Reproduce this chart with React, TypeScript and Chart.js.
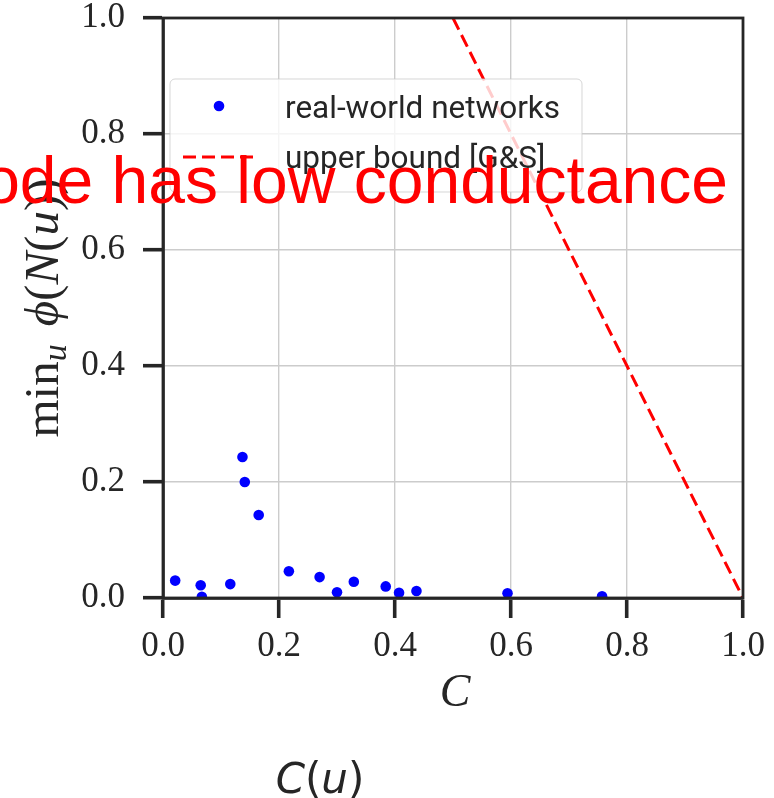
import { useEffect, useRef } from "react";
import { Chart, registerables } from "chart.js";

Chart.register(...registerables);

// ---- data ----
const clusteringC = [0.021, 0.065, 0.067, 0.116, 0.137, 0.141, 0.165, 0.217, 0.27, 0.3, 0.329, 0.384, 0.407, 0.437, 0.594, 0.757];
const minConductance = [0.03, 0.022, 0.002, 0.024, 0.243, 0.2, 0.143, 0.046, 0.036, 0.01, 0.028, 0.02, 0.009, 0.012, 0.008, 0.003];
const boundX = [0.5, 1.0];
const boundY = [1.0, 0.0];
const tickValues = [0, 0.2, 0.4, 0.6, 0.8, 1.0];
const seriesLabels = ["real-world networks", "upper bound [G&S]"];
const overlayTitle = "ode has low conductance";
const xAxisTitle = "C";
const bottomCaption = [
  { t: "C", italic: true },
  { t: "(", italic: false },
  { t: "u", italic: true },
  { t: ")", italic: false },
];

const INK = "#262626";
const SERIF = '"Liberation Serif", "DejaVu Serif", serif';
const SANS_LEG = 'Roboto, "Liberation Sans", sans-serif';

type Seg = { t: string; font: string; dy?: number; gap?: number };

const yLabelSegs: Seg[] = [
  { t: "min", font: `49px ${SERIF}` },
  { t: "u", font: `italic 34px ${SERIF}`, dy: 8 },
  { t: "ϕ", font: `italic 49px ${SERIF}`, gap: 18 },
  { t: "(", font: `49px ${SERIF}` },
  { t: "N", font: `italic 49px ${SERIF}` },
  { t: "(", font: `49px ${SERIF}` },
  { t: "u", font: `italic 49px ${SERIF}` },
  { t: "))", font: `49px ${SERIF}` },
];

function drawSegs(ctx: CanvasRenderingContext2D, segs: Seg[]) {
  let total = 0;
  const widths = segs.map((s) => {
    ctx.font = s.font;
    const w = ctx.measureText(s.t).width;
    total += w + (s.gap || 0);
    return w;
  });
  let x = -total / 2;
  segs.forEach((s, i) => {
    x += s.gap || 0;
    ctx.font = s.font;
    ctx.fillText(s.t, x, s.dy || 0);
    x += widths[i];
  });
}

const decorPlugin = {
  id: "decor",
  afterDatasetsDraw(chart: any) {
    const { ctx, chartArea: a } = chart;
    ctx.save();
    ctx.strokeStyle = INK;
    ctx.lineWidth = 2.8;
    ctx.strokeRect(a.left, a.top, a.right - a.left, a.bottom - a.top);
    ctx.restore();
  },
  afterDraw(chart: any) {
    const { ctx, chartArea: a } = chart;
    const ds = chart.data.datasets;
    ctx.save();

    // legend box
    const lx = a.left + 7;
    const ly = a.top + 61;
    const lw = 412;
    const lh = 113;
    ctx.beginPath();
    (ctx as any).roundRect(lx, ly, lw, lh, 5);
    ctx.fillStyle = "rgba(255,255,255,0.8)";
    ctx.fill();
    ctx.strokeStyle = "rgba(204,204,204,0.8)";
    ctx.lineWidth = 1;
    ctx.stroke();

    // entry 1: scatter marker
    ctx.fillStyle = ds[0].backgroundColor;
    ctx.beginPath();
    ctx.arc(lx + 49, ly + 27, 5.3, 0, Math.PI * 2);
    ctx.fill();
    // entry 2: dashed line
    ctx.strokeStyle = ds[1].borderColor;
    ctx.lineWidth = 3;
    ctx.setLineDash([13, 6]);
    ctx.beginPath();
    ctx.moveTo(lx + 13, ly + 78);
    ctx.lineTo(lx + 86, ly + 78);
    ctx.stroke();
    ctx.setLineDash([]);

    ctx.fillStyle = INK;
    ctx.font = `31.5px ${SANS_LEG}`;
    ctx.textAlign = "left";
    ctx.textBaseline = "alphabetic";
    ctx.fillText(ds[0].label, lx + 115, ly + 39);
    ctx.fillText(ds[1].label, lx + 115, ly + 89);

    // x axis title
    ctx.font = `italic 46px ${SERIF}`;
    ctx.textAlign = "center";
    ctx.fillText(xAxisTitle, (a.left + a.right) / 2 + 2, a.bottom + 108);

    // y axis title (rotated)
    ctx.save();
    ctx.translate(58, (a.top + a.bottom) / 2);
    ctx.rotate(-Math.PI / 2);
    ctx.textAlign = "left";
    drawSegs(ctx, yLabelSegs);
    ctx.restore();

    // red overlay title
    ctx.fillStyle = "#ff0000";
    ctx.font = '66px "Liberation Sans", Arial, sans-serif';
    ctx.textAlign = "right";
    ctx.fillText(overlayTitle, a.right - 15, a.top + 185);

    // bottom caption C(u)
    ctx.fillStyle = INK;
    ctx.textAlign = "left";
    const capSegs: Seg[] = bottomCaption.map((c) => ({
      t: c.t,
      font: `${c.italic ? "oblique " : ""}42px "DejaVu Sans", sans-serif`,
    }));
    ctx.save();
    ctx.translate(a.left + 157, a.bottom + 195);
    drawSegs(ctx, capSegs);
    ctx.restore();

    ctx.restore();
  },
};

function makeAxis(pos: "x" | "y") {
  return {
    type: "linear" as const,
    min: 0,
    max: 1,
    afterBuildTicks: (s: any) => {
      s.ticks = tickValues.map((v) => ({ value: v }));
    },
    afterFit: (s: any) => {
      if (pos === "y") s.width = 163;
      else s.height = 200;
      s.paddingTop = 0;
      s.paddingBottom = 0;
      s.paddingLeft = 0;
      s.paddingRight = 0;
    },
    ticks: {
      color: INK,
      font: { family: SERIF, size: 35 },
      padding: pos === "y" ? 18 : 8,
      callback: (v: any) => Number(v).toFixed(1),
      maxRotation: 0,
      autoSkip: false,
    },
    grid: {
      color: "#cccccc",
      lineWidth: 1.4,
      tickColor: INK,
      tickWidth: 3.6,
      tickLength: 20,
    },
    border: { color: INK, width: 2.8 },
  };
}

export default function App() {
  const ref = useRef<HTMLCanvasElement | null>(null);
  useEffect(() => {
    if (!ref.current) return;
    const chart = new Chart(ref.current, {
      type: "scatter",
      data: {
        datasets: [
          {
            label: seriesLabels[0],
            data: clusteringC.map((x, i) => ({ x, y: minConductance[i] })),
            backgroundColor: "#0000ff",
            borderWidth: 0,
            pointRadius: 5.3,
            clip: 0,
          },
          {
            type: "line",
            label: seriesLabels[1],
            data: boundX.map((x, i) => ({ x, y: boundY[i] })),
            borderColor: "#ff0000",
            borderWidth: 3,
            borderDash: [13, 6],
            pointRadius: 0,
            showLine: true,
            fill: false,
            clip: 0,
          } as any,
        ],
      },
      options: {
        responsive: false,
        animation: false,
        devicePixelRatio: 1,
        layout: { padding: { left: 0, top: 18, right: 31, bottom: 0 } },
        plugins: { legend: { display: false }, tooltip: { enabled: false } },
        scales: { x: makeAxis("x"), y: makeAxis("y") },
      },
      plugins: [decorPlugin],
    });
    return () => chart.destroy();
  }, []);
  return (
    <div style={{ position: "absolute", left: 0, top: 0, width: 774, height: 798, background: "#fff" }}>
      <canvas ref={ref} width={774} height={798} />
    </div>
  );
}
